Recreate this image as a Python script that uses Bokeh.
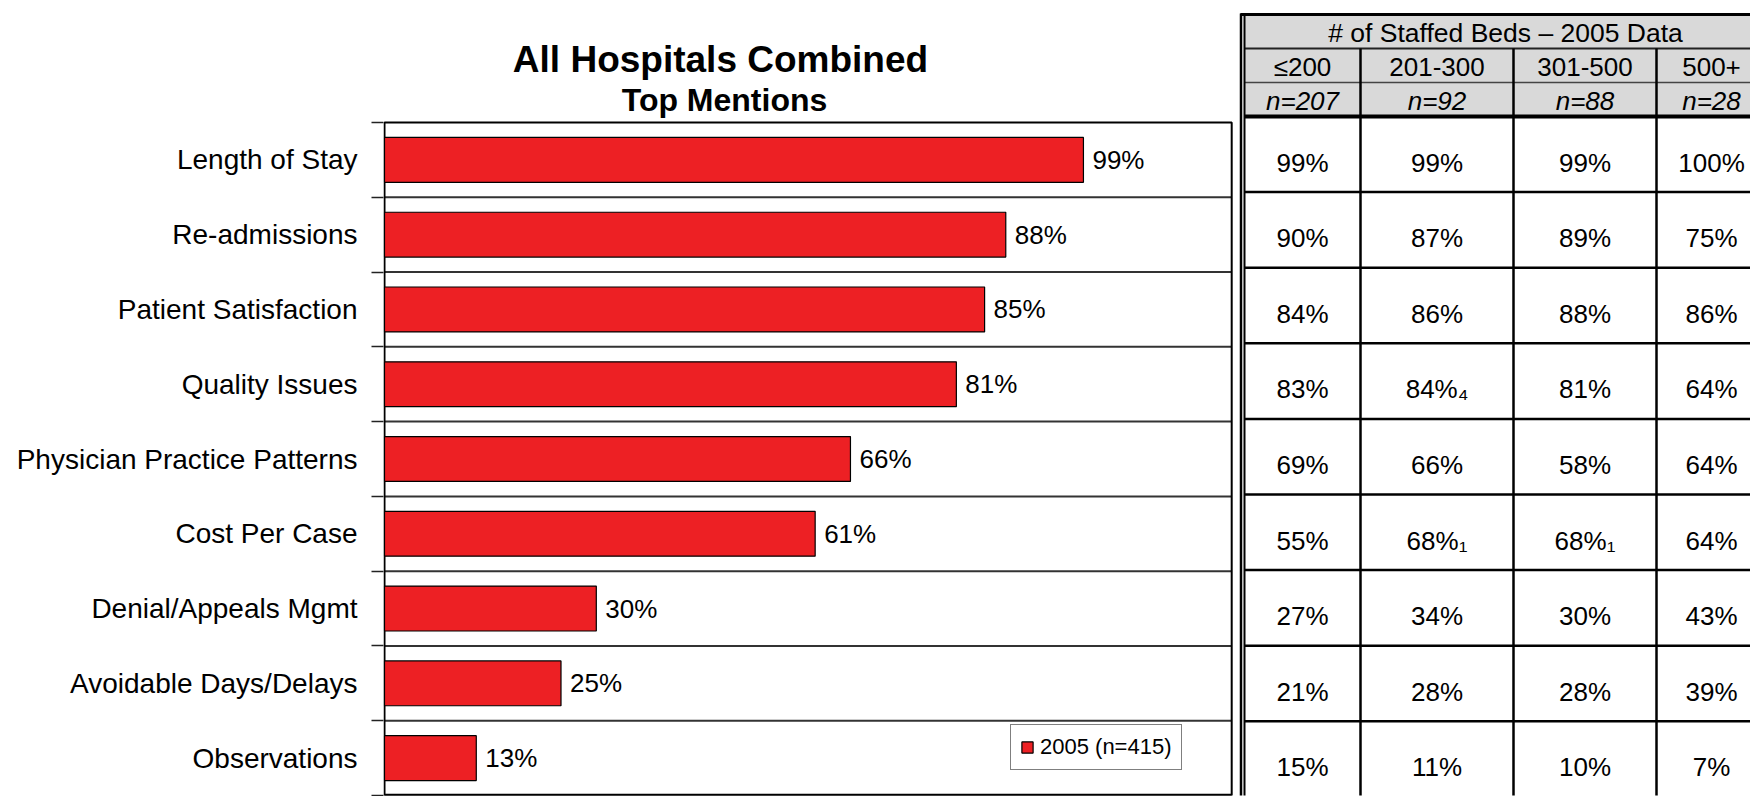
from bokeh.plotting import figure
from bokeh.models import Range1d, FixedTicker, CustomJSTickFormatter
from bokeh.embed import file_html
from bokeh.resources import INLINE
from bokeh.core.properties import value

# ---------------- data ----------------
title_text = "All Hospitals Combined"
subtitle_text = "Top Mentions"
series_label = "2005 (n=415)"

categories = ["Length of Stay", "Re-admissions", "Patient Satisfaction", "Quality Issues",
              "Physician Practice Patterns", "Cost Per Case", "Denial/Appeals Mgmt",
              "Avoidable Days/Delays", "Observations"]
all_hospitals = [99, 88, 85, 81, 66, 61, 30, 25, 13]

table_title = "# of Staffed Beds \u2013 2005 Data"
bed_groups = ["\u2264200", "201-300", "301-500", "500+"]
bed_n = ["n=207", "n=92", "n=88", "n=28"]
beds_le200 = [99, 90, 84, 83, 69, 55, 27, 21, 15]
beds_201_300 = [99, 87, 86, 84, 66, 68, 34, 28, 11]
beds_301_500 = [99, 89, 88, 81, 58, 68, 30, 28, 10]
beds_500plus = [100, 75, 86, 64, 64, 64, 43, 39, 7]
sig_le200 = ["", "", "", "", "", "", "", "", ""]
sig_201_300 = ["", "", "", "4", "", "1", "", "", ""]
sig_301_500 = ["", "", "", "", "", "1", "", "", ""]
sig_500plus = ["", "", "", "", "", "", "", "", ""]

# ---------------- styles / layout ----------------
FONT = "Liberation Sans"
RED = "#ED2024"
SUB = {"1": "\u2081", "4": "\u2084"}

W, H = 1750, 796
BORDER_L, BORDER_B = 383, 1
FRAME_W, FRAME_H = W - BORDER_L, H - BORDER_B
PX_PER_PCT = 7.06          # horizontal scale of the bar axis
X_PAD_PX = 1               # bar axis zero sits 1px inside the frame
CHART_TOP = 122            # top of the bar panel (px from top)
n = len(categories)
ROW_PX = (FRAME_H - CHART_TOP) / n
XMAX = 120                 # right edge of the bar panel (in %)

x_start = -X_PAD_PX / PX_PER_PCT
x_end = x_start + FRAME_W / PX_PER_PCT
y_end = FRAME_H / ROW_PX

p = figure(width=W, height=H, x_range=Range1d(x_start, x_end), y_range=Range1d(0, y_end),
           x_axis_type=None, output_backend="svg", toolbar_location=None,
           min_border_left=BORDER_L, min_border_right=0, min_border_top=0, min_border_bottom=BORDER_B)
p.outline_line_color = None
p.grid.visible = False
# pixel coordinate ranges (canvas px from top-left) for titles and the table
p.extra_x_ranges = {"px": Range1d(BORDER_L, W)}
p.extra_y_ranges = {"px": Range1d(FRAME_H, 0)}

centers = [n - i - 0.5 for i in range(n)]
bounds = list(range(n + 1))

# --- category axis
yax = p.yaxis[0]
yax.ticker = FixedTicker(ticks=centers, minor_ticks=bounds)
yax.formatter = CustomJSTickFormatter(args=dict(names=categories),
                                      code="return names[names.length - 1 - Math.floor(tick)];")
yax.axis_line_color = None
yax.major_tick_out = 0
yax.major_tick_in = 0
yax.minor_tick_out = 12
yax.minor_tick_in = 0
yax.minor_tick_line_color = "#222222"
yax.minor_tick_line_width = 1.5
yax.major_label_standoff = 14
yax.major_label_text_font = FONT
yax.major_label_text_font_size = "28px"
yax.major_label_text_color = "black"

# --- bar panel box and row separators
p.segment(x0=[0] * (n - 1), x1=[XMAX] * (n - 1), y0=bounds[1:-1], y1=bounds[1:-1],
          line_color="#333333", line_width=2)
p.quad(left=[0], right=[XMAX], bottom=[0], top=[n], fill_color=None, line_color="black", line_width=2)
p.segment(x0=[0], x1=[XMAX], y0=[0], y1=[0], line_color="black", line_width=3.5)

# --- bars and labels
p.hbar(y=centers, left=0, right=all_hospitals, height=0.6, fill_color=RED,
       line_color="black", line_width=1.2, legend_label=series_label)
p.text(x=all_hospitals, y=centers, text=[f"{v}%" for v in all_hospitals], x_offset=9,
       text_align="left", text_baseline="middle", text_font=value(FONT),
       text_font_size="26px", text_color="black")

# --- titles
p.text(x=[720], y=[59], text=[title_text], x_range_name="px", y_range_name="px",
       text_align="center", text_baseline="alphabetic", text_font=value(FONT),
       text_font_style="bold", text_font_size="37px", text_color="black")
p.text(x=[724], y=[99], text=[subtitle_text], x_range_name="px", y_range_name="px",
       text_align="center", text_baseline="alphabetic", text_font=value(FONT),
       text_font_style="bold", text_font_size="32px", text_color="black")

# --- legend
leg = p.legend[0]
leg.location = (627, 25)
leg.border_line_color = "black"
leg.border_line_width = 1.5
leg.background_fill_color = "white"
leg.background_fill_alpha = 1
leg.padding = 9
leg.margin = 0
leg.spacing = 0
leg.glyph_width = 14
leg.glyph_height = 14
leg.label_height = 25
leg.label_standoff = 6
leg.label_text_font = FONT
leg.label_text_font_size = "22px"
leg.label_text_color = "black"

# ---------------- table (pixel coordinates) ----------------
col_edges = [1244, 1360, 1513, 1656, 1766]
col_centers = [(a + b) / 2 for a, b in zip(col_edges[:-1], col_edges[1:])]
HEAD_TOP, HEAD_ROW = 14, 34
BODY_TOP = HEAD_TOP + 3 * HEAD_ROW
BODY_ROW = 75.6
TL = col_edges[0]
TR = col_edges[-1]
kw = dict(x_range_name="px", y_range_name="px")

p.quad(left=[TL], right=[TR], top=[HEAD_TOP + 1], bottom=[BODY_TOP],
       fill_color="#d9d9d9", line_color=None, **kw)
p.segment(x0=[TL - 4], x1=[TR], y0=[HEAD_TOP], y1=[HEAD_TOP], line_color="black", line_width=3, **kw)
p.segment(x0=[TL], x1=[TR], y0=[HEAD_TOP + HEAD_ROW], y1=[HEAD_TOP + HEAD_ROW],
          line_color="#222222", line_width=2, **kw)
p.segment(x0=[TL], x1=[TR], y0=[HEAD_TOP + 2 * HEAD_ROW], y1=[HEAD_TOP + 2 * HEAD_ROW],
          line_color="#444444", line_width=1.5, **kw)
p.segment(x0=[TL], x1=[TR], y0=[BODY_TOP], y1=[BODY_TOP], line_color="black", line_width=4, **kw)
row_tops = [BODY_TOP + BODY_ROW * i for i in range(n)]
p.segment(x0=[TL] * (n - 1), x1=[TR] * (n - 1), y0=row_tops[1:], y1=row_tops[1:],
          line_color="black", line_width=2.5, **kw)
inner = col_edges[1:-1]
p.segment(x0=inner, x1=inner, y0=[HEAD_TOP + HEAD_ROW] * len(inner), y1=[H] * len(inner),
          line_color="black", line_width=2.5, **kw)
p.segment(x0=[TL - 3.5, TL], x1=[TL - 3.5, TL], y0=[HEAD_TOP - 1, HEAD_TOP - 1], y1=[H, H],
          line_color="black", line_width=[2.5, 2], **kw)

p.text(x=[(TL + TR) / 2], y=[HEAD_TOP + HEAD_ROW / 2 + 1], text=[table_title],
       text_align="center", text_baseline="middle", text_font=value(FONT), text_font_size="26.5px",
       text_color="black", **kw)
p.text(x=col_centers, y=[HEAD_TOP + 1.5 * HEAD_ROW + 1] * 4, text=bed_groups,
       text_align="center", text_baseline="middle", text_font=value(FONT), text_font_size="26px",
       text_color="black", **kw)
p.text(x=col_centers, y=[HEAD_TOP + 2.5 * HEAD_ROW + 1] * 4, text=bed_n,
       text_align="center", text_baseline="middle", text_font=value(FONT), text_font_size="26px",
       text_font_style="italic", text_color="black", **kw)

cols = [(beds_le200, sig_le200), (beds_201_300, sig_201_300),
        (beds_301_500, sig_301_500), (beds_500plus, sig_500plus)]
xs, ys, labels = [], [], []
for c, (vals, sigs) in enumerate(cols):
    for r, (v, s) in enumerate(zip(vals, sigs)):
        xs.append(col_centers[c])
        ys.append(row_tops[r] + 46)
        labels.append(f"{v}%" + "".join(SUB.get(ch, ch) for ch in s))
p.text(x=xs, y=ys, text=labels, text_align="center", text_baseline="middle",
       text_font=value(FONT), text_font_size="26px", text_color="black", **kw)

open("out.html", "w").write(file_html(p, INLINE))
